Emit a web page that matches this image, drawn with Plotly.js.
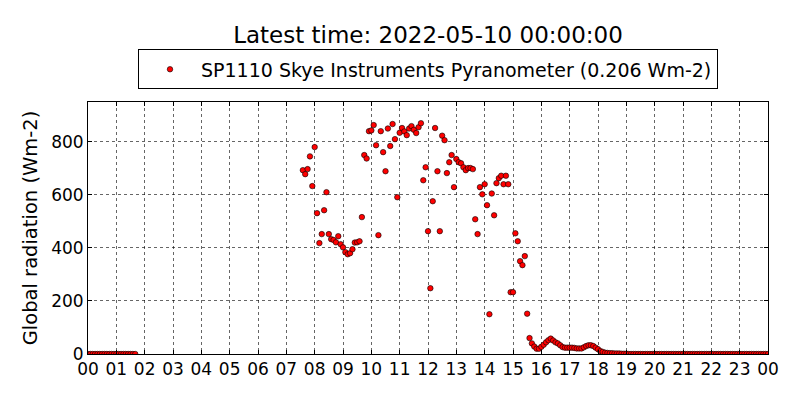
<!DOCTYPE html>
<html>
<head>
<meta charset="utf-8">
<script src="https://cdn.plot.ly/plotly-3.0.1.min.js"></script>
<style>html,body{margin:0;padding:0;background:#fff;}#chart{width:800px;height:400px;}</style>
</head>
<body>
<div id="chart"></div>
<script>
// Night-time readings (zero)
const morningTimes = ["00:00","00:05","00:10","00:15","00:20","00:25","00:30","00:35","00:40","00:45","00:50","00:55",
  "01:00","01:05","01:10","01:15","01:20","01:25","01:30","01:35","01:40"];
const morningValues = [0,0,0,0,0,0,0,0,0,0,0,0, 0,0,0,0,0,0,0,0,0];

// Daytime readings
const dayTimes = [
  "07:35","07:40","07:45","07:50","07:55",
  "08:00","08:05","08:10","08:15","08:20","08:25","08:30","08:35","08:40","08:45","08:50","08:55",
  "09:00","09:05","09:10","09:15","09:20","09:25","09:30","09:35","09:40","09:45","09:50","09:55",
  "10:00","10:05","10:10","10:15","10:20","10:25","10:30","10:35","10:40","10:45","10:50","10:55",
  "11:00","11:05","11:10","11:15","11:20","11:25","11:30","11:35","11:40","11:45","11:50","11:55",
  "12:00","12:05","12:10","12:15","12:20","12:25","12:30","12:35","12:40","12:45","12:50","12:55",
  "13:00","13:05","13:10","13:15","13:20","13:25","13:30","13:35","13:40","13:45","13:50","13:55",
  "14:00","14:05","14:10","14:15","14:20","14:25","14:30","14:35","14:40","14:45","14:50","14:55",
  "15:00","15:05","15:10","15:15","15:20","15:25","15:30","15:35","15:40","15:45","15:50","15:55",
  "16:00","16:05","16:10","16:15","16:20","16:25","16:30","16:35","16:40","16:45","16:50","16:55",
  "17:00","17:05","17:10","17:15","17:20","17:25","17:30","17:35","17:40","17:45","17:50","17:55",
  "18:00","18:05","18:10","18:15","18:20","18:25","18:30","18:35","18:40","18:45","18:50","18:55",
  "19:00"];
const dayValues = [
  693,678,697,745,633,
  780,531,418,452,542,610,452,433,430,421,444,414,
  402,384,376,380,395,420,421,425,516,750,737,840,
  843,863,787,448,840,761,689,850,784,867,810,591,
  834,852,839,825,850,859,845,833,855,870,655,704,
  463,248,576,852,689,463,823,806,682,723,750,629,
  735,723,719,704,693,701,701,697,508,452,629,602,
  640,561,150,605,523,644,663,672,640,672,640,233,
  233,455,425,350,335,369,152,60,40,28,20,20,
  27,35,44,52,58,51,44,40,33,26,24,24,
  24,24,23,21,21,21,25,30,33,33,30,24,
  18,11,8,5,4,3,3,2,2,2,1,1,
  1];

// Evening / night readings (zero)
const eveningTimes = [
  "19:05","19:10","19:15","19:20","19:25","19:30","19:35","19:40","19:45","19:50","19:55",
  "20:00","20:05","20:10","20:15","20:20","20:25","20:30","20:35","20:40","20:45","20:50","20:55",
  "21:00","21:05","21:10","21:15","21:20","21:25","21:30","21:35","21:40","21:45","21:50","21:55",
  "22:00","22:05","22:10","22:15","22:20","22:25","22:30","22:35","22:40","22:45","22:50","22:55",
  "23:00","23:05","23:10","23:15","23:20","23:25","23:30","23:35","23:40","23:45","23:50","23:55",
  "24:00"];
const eveningValues = [
  0,0,0,0,0,0,0,0,0,0,0,
  0,0,0,0,0,0,0,0,0,0,0,0,
  0,0,0,0,0,0,0,0,0,0,0,0,
  0,0,0,0,0,0,0,0,0,0,0,0,
  0,0,0,0,0,0,0,0,0,0,0,0,
  0];

const yTicks = [0,200,400,600,800];
const seriesName = "SP1110 Skye Instruments Pyranometer (0.206 Wm-2)";
const titleText = "Latest time: 2022-05-10 00:00:00";

function toDate(t){
  return t === "24:00" ? "2022-05-10 00:00" : "2022-05-09 " + t;
}
const allTimes = morningTimes.concat(dayTimes, eveningTimes).map(toDate);
const allValues = morningValues.concat(dayValues, eveningValues);

const font = "DejaVu Sans, Liberation Sans, sans-serif";

const trace = {
  x: allTimes, y: allValues, type: "scatter", mode: "markers", name: seriesName,
  marker: {color: "#ff0000", size: 5.5, line: {color: "#000000", width: 0.6}},
  showlegend: true
};

const layout = {
  width: 800, height: 400,
  margin: {l: 88, r: 32, t: 102, b: 46},
  paper_bgcolor: "#ffffff", plot_bgcolor: "#ffffff",
  font: {family: font, size: 17, color: "#000000"},
  title: {text: titleText, font: {family: font, size: 23, color: "#000"},
          x: 0.5, xanchor: "center", xref: "paper", y: 0.912, yanchor: "middle"},
  showlegend: true,
  legend: {x: 0.5, xanchor: "center", y: 1.05, yanchor: "bottom",
           bordercolor: "#000", borderwidth: 1, bgcolor: "#fff",
           itemwidth: 52,
           font: {family: font, size: 19}},
  xaxis: {
    type: "date", range: ["2022-05-09 00:00", "2022-05-10 00:00"],
    dtick: 3600000, tick0: "2022-05-09 00:00", tickformat: "%H",
    ticks: "inside", ticklen: 4, tickcolor: "#000", tickwidth: 1,
    showline: true, linecolor: "#000", linewidth: 1, mirror: "ticks",
    showgrid: true, gridcolor: "#000", gridwidth: 0.6, griddash: "dot",
    zeroline: false, tickfont: {family: font, size: 17}
  },
  yaxis: {
    range: [0, 950], tickvals: yTicks, ticktext: yTicks.map(String),
    ticks: "inside", ticklen: 4, tickcolor: "#000", tickwidth: 1,
    showline: true, linecolor: "#000", linewidth: 1, mirror: "ticks",
    showgrid: true, gridcolor: "#000", gridwidth: 0.6, griddash: "dot",
    zeroline: false, tickfont: {family: font, size: 17},
    title: {text: "Global radiation (Wm-2)", font: {family: font, size: 19.5}, standoff: 8}
  }
};

Plotly.newPlot("chart", [trace], layout, {displayModeBar: false, staticPlot: true});
</script>
</body>
</html>
